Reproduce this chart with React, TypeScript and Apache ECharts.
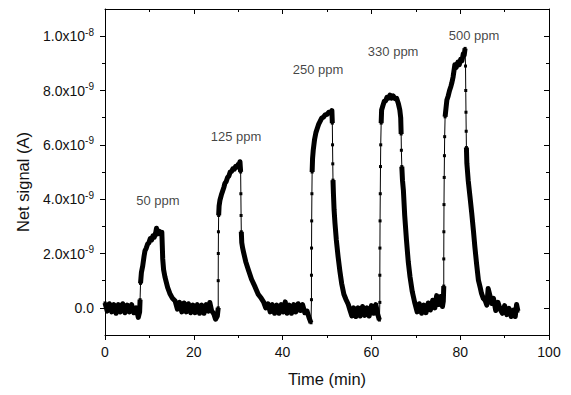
import React, { useEffect, useRef } from 'react';
import * as echarts from 'echarts';

// Net signal in units of 1e-9 A, time in minutes
const cycle50: [number, number][] = [
  [0, 0.18], [0.5, -0.12], [1, 0.15], [1.5, -0.15], [2, 0.12], [2.5, -0.2], [3, 0.12], [3.5, -0.15],
  [4, 0.15], [4.5, -0.18], [5, 0.1], [5.5, -0.15], [6, 0.12], [6.5, -0.18], [7, 0.0], [7.5, -0.35], [7.8, -0.15],
  [7.9, 0.3], [8.0, 0.9], [8.2, 1.3], [8.5, 1.55], [8.8, 1.9], [9.0, 2.1], [9.3, 2.2], [9.6, 2.35], [9.9, 2.4],
  [10.2, 2.55], [10.5, 2.5], [10.8, 2.65], [11.1, 2.6], [11.4, 2.75], [11.6, 2.93], [11.9, 2.72], [12.2, 2.82],
  [12.5, 2.72], [12.8, 2.78],
  [12.9, 2.3], [13.0, 1.8], [13.2, 1.4], [13.5, 1.14], [13.8, 0.95], [14.1, 0.75], [14.6, 0.53], [15.2, 0.35],
  [15.8, 0.25], [16.3, -0.05], [16.8, 0.2], [17.3, -0.15], [17.8, 0.18], [18.3, -0.15], [18.8, 0.15], [19.3, -0.18],
  [19.8, 0.1], [20.3, -0.18], [20.8, 0.12], [21.3, -0.2], [21.8, 0.1], [22.3, -0.2], [22.8, 0.12], [23.3, -0.12],
  [23.6, 0.2], [24.0, -0.1], [24.5, -0.22], [24.9, -0.42], [25.3, -0.3],
];

const cycle125: [number, number][] = [
  [25.5, 0.0], [25.5, 1.0], [25.52, 2.0], [25.55, 2.8], [25.6, 3.4], [25.7, 3.75], [25.9, 3.97], [26.2, 4.15],
  [26.5, 4.3], [26.8, 4.45], [27.0, 4.58], [27.3, 4.65], [27.6, 4.8], [27.9, 4.85], [28.2, 5.0], [28.5, 5.02],
  [28.8, 5.12], [29.1, 5.1], [29.4, 5.2], [29.7, 5.18], [30.0, 5.28], [30.2, 5.25], [30.4, 5.38],
  [30.55, 5.0], [30.6, 4.2], [30.65, 3.4], [30.7, 2.8], [30.8, 2.4], [31.0, 2.2], [31.2, 2.05], [31.7, 1.7],
  [32.3, 1.39], [33.0, 1.05], [33.8, 0.77], [34.5, 0.5], [35.2, 0.35], [35.7, 0.22], [36.2, 0.0], [36.7, 0.15],
  [37.2, -0.15], [37.7, 0.12], [38.2, -0.2], [38.7, 0.1], [39.2, -0.2], [39.7, 0.12], [40.2, -0.15], [40.6, 0.22],
  [41.0, -0.2], [41.5, 0.1], [42.0, -0.2], [42.5, 0.12], [43.0, -0.15], [43.5, 0.15], [44.0, -0.1], [44.5, 0.12],
  [45.0, -0.18], [45.5, -0.12], [46.0, -0.38], [46.4, -0.55],
];

const cycle250: [number, number][] = [
  [46.5, 0.3], [46.5, 1.2], [46.52, 2.2], [46.55, 3.2], [46.6, 4.2], [46.65, 5.0], [46.75, 5.5], [46.9, 5.8],
  [47.2, 6.2], [47.5, 6.45], [47.8, 6.6], [48.1, 6.75], [48.5, 6.88], [48.8, 6.98], [49.2, 7.02], [49.6, 7.1],
  [50.0, 7.12], [50.4, 7.2], [50.8, 7.18], [51.1, 7.26],
  [51.2, 6.8], [51.25, 6.0], [51.3, 5.3], [51.35, 4.7], [51.45, 4.2], [51.6, 3.6], [51.8, 3.11], [52.1, 2.5],
  [52.5, 1.88], [52.9, 1.35], [53.3, 0.9], [53.8, 0.5], [54.3, 0.3], [54.8, 0.12], [55.2, -0.1], [55.6, -0.3],
  [56.0, 0.0], [56.5, -0.32], [57.0, 0.0], [57.5, -0.3], [58.0, 0.05], [58.5, -0.28], [59.0, 0.0],
  [59.5, -0.3], [60.0, 0.08], [60.5, -0.2], [61.0, 0.12], [61.4, -0.22], [61.8, -0.45],
];

const cycle330: [number, number][] = [
  [61.9, 0.2], [61.9, 1.2], [61.92, 2.2], [61.95, 3.2], [62.0, 4.2], [62.05, 5.2], [62.1, 6.0], [62.2, 6.8],
  [62.3, 7.28], [62.6, 7.45], [62.9, 7.6], [63.2, 7.62], [63.5, 7.75], [63.8, 7.72], [64.2, 7.83], [64.5, 7.72],
  [64.9, 7.8], [65.3, 7.7], [65.7, 7.71], [66.1, 7.5], [66.4, 7.28], [66.6, 7.0],
  [66.7, 6.4], [66.75, 5.8], [66.85, 5.2], [67.0, 4.7], [67.2, 4.34], [67.5, 3.4], [67.9, 2.49], [68.3, 1.7],
  [68.7, 1.14], [69.2, 0.6], [69.8, 0.16], [70.3, -0.15], [70.8, 0.15], [71.3, -0.2], [71.8, 0.1], [72.3, -0.18],
  [72.8, 0.18], [73.3, -0.08], [73.8, 0.28], [74.3, 0.0], [74.7, 0.45], [75.2, 0.12], [75.6, 0.42], [76.0, 0.05],
  [76.2, 0.25],
];

const cycle500: [number, number][] = [
  [76.3, 0.8], [76.3, 1.8], [76.32, 2.8], [76.35, 3.8], [76.4, 4.8], [76.45, 5.6], [76.5, 6.3], [76.6, 7.03],
  [76.8, 7.35], [77.0, 7.65], [77.3, 7.8], [77.6, 8.0], [77.9, 8.15], [78.1, 8.27], [78.4, 8.5], [78.8, 8.95],
  [79.1, 8.85], [79.5, 9.05], [79.8, 8.95], [80.1, 9.15], [80.4, 9.1], [80.7, 9.35], [80.9, 9.3], [81.1, 9.55],
  [81.2, 8.9], [81.25, 8.0], [81.3, 7.2], [81.35, 6.5], [81.4, 5.9], [81.5, 5.32], [81.8, 4.7], [82.2, 4.1],
  [82.6, 3.48], [83.0, 2.8], [83.3, 2.25], [83.7, 1.6], [84.1, 1.02], [84.5, 0.75], [84.8, 0.53], [85.2, 0.35],
  [85.6, 0.28], [86.0, 0.1], [86.3, 0.71], [86.7, 0.45], [87.1, 0.16], [87.5, 0.35], [88.0, -0.1], [88.5, 0.2],
  [89.0, -0.05], [89.5, -0.2], [90.0, 0.08], [90.5, -0.25], [91.0, -0.02], [91.5, -0.32], [92.0, -0.08], [92.4, -0.32],
  [92.7, 0.12], [93.0, -0.12],
];

const yLabelValues = [0, 2, 4, 6, 8, 10];
const yMinorValues = [1, 3, 5, 7, 9];
const concLabels = ['50 ppm', '125 ppm', '250 ppm', '330 ppm', '500 ppm'];
const labelTimes = [11.9, 29.5, 48, 64.9, 83.1];
const labelLevels = [3.94, 6.3, 8.79, 9.42, 10.04];

const UNIT = 1e-9;
const FONT = '"Liberation Sans", Arial, sans-serif';
const TEXT = '#111';

export default function App() {
  const ref = useRef<HTMLDivElement>(null);
  useEffect(() => {
    document.body.style.margin = '0';
    if (!ref.current) return;
    const chart = echarts.init(ref.current, undefined, { renderer: 'svg' });

    const trace = [...cycle50, ...cycle125, ...cycle250, ...cycle330, ...cycle500];
    // dense noisy band: break on steep (near-vertical) transitions, drawn thin there
    const band: any[] = [];
    trace.forEach((p, i) => {
      if (i > 0) {
        const [x0, y0] = trace[i - 1];
        if (Math.abs(p[1] - y0) > 6 * (p[0] - x0)) band.push([p[0], '-']);
      }
      band.push(p);
    });

    const fmtY = (v: number) => {
      if (Math.abs(v) < 1e-9) return '{b|0.0}';
      const [m, e] = (v * UNIT).toExponential(1).split('e');
      return `{b|${m}x10}{s|${parseInt(e, 10)}}`;
    };

    const yBase = {
      type: 'value', min: -1, max: 11, splitLine: { show: false },
      axisLine: { show: false, onZero: false, lineStyle: { color: '#000', width: 1 } },
    };
    const xBase = {
      type: 'value', min: 0, max: 100, interval: 20, splitLine: { show: false },
      axisLine: { show: true, onZero: false, lineStyle: { color: '#000', width: 1 } },
      minorTick: { show: true, splitNumber: 2, length: 3, lineStyle: { color: '#000' } },
    };

    chart.setOption({
      animation: false,
      grid: { left: 105, right: 22, top: 9, bottom: 60 },
      xAxis: [
        {
          ...xBase, position: 'bottom',
          axisTick: { show: true, length: 5, lineStyle: { color: '#000' } },
          axisLabel: { fontSize: 14, fontFamily: FONT, color: TEXT, margin: 10 },
        },
        {
          ...xBase, position: 'top',
          axisTick: { show: true, inside: true, length: 5, lineStyle: { color: '#000' } },
          axisLabel: { show: false },
        },
      ],
      yAxis: [
        {
          ...yBase, position: 'left',
          axisLine: { ...yBase.axisLine, show: true },
          axisTick: { show: true, length: 5, customValues: yLabelValues, lineStyle: { color: '#000' } },
          axisLabel: {
            customValues: yLabelValues, formatter: fmtY, margin: 11,
            rich: {
              b: { fontSize: 14, fontFamily: FONT, color: TEXT, lineHeight: 18 },
              s: { fontSize: 10, fontFamily: FONT, color: TEXT, lineHeight: 10, verticalAlign: 'top' },
            },
          },
        },
        {
          ...yBase, position: 'left',
          axisTick: { show: true, length: 3, customValues: yMinorValues, lineStyle: { color: '#000' } },
          axisLabel: { show: false },
        },
        {
          ...yBase, position: 'right',
          axisLine: { ...yBase.axisLine, show: true },
          axisTick: { show: true, inside: true, length: 5, customValues: yLabelValues, lineStyle: { color: '#000' } },
          axisLabel: { show: false },
        },
        {
          ...yBase, position: 'right',
          axisTick: { show: true, inside: true, length: 3, customValues: yMinorValues, lineStyle: { color: '#000' } },
          axisLabel: { show: false },
        },
      ],
      series: [
        {
          type: 'line', xAxisIndex: 0, yAxisIndex: 0, data: band, showSymbol: false, connectNulls: false,
          lineStyle: { width: 5, color: '#000', join: 'round' }, silent: true,
        },
        {
          type: 'line', xAxisIndex: 0, yAxisIndex: 0, data: trace, symbol: 'rect', symbolSize: 3,
          itemStyle: { color: '#000' }, lineStyle: { width: 1, color: '#000' }, silent: true,
        },
        {
          type: 'scatter', xAxisIndex: 0, yAxisIndex: 0, symbolSize: 0, silent: true,
          data: concLabels.map((n, i) => ({ name: n, value: [labelTimes[i], labelLevels[i]] })),
          label: {
            show: true, position: [0, 0], align: 'center', verticalAlign: 'middle', formatter: '{b}',
            fontSize: 13, fontFamily: FONT, color: TEXT,
          },
        },
      ],
      graphic: [
        {
          type: 'text', x: 327, y: 379, silent: true,
          style: { text: 'Time (min)', font: `16.5px ${FONT}`, fill: TEXT, align: 'center', verticalAlign: 'middle' },
        },
        {
          type: 'text', x: 23, y: 182, rotation: Math.PI / 2, silent: true,
          style: { text: 'Net signal (A)', font: `16.5px ${FONT}`, fill: TEXT, align: 'center', verticalAlign: 'middle' },
        },
      ],
    });
    return () => chart.dispose();
  }, []);
  return <div ref={ref} style={{ width: 571, height: 395 }} />;
}
